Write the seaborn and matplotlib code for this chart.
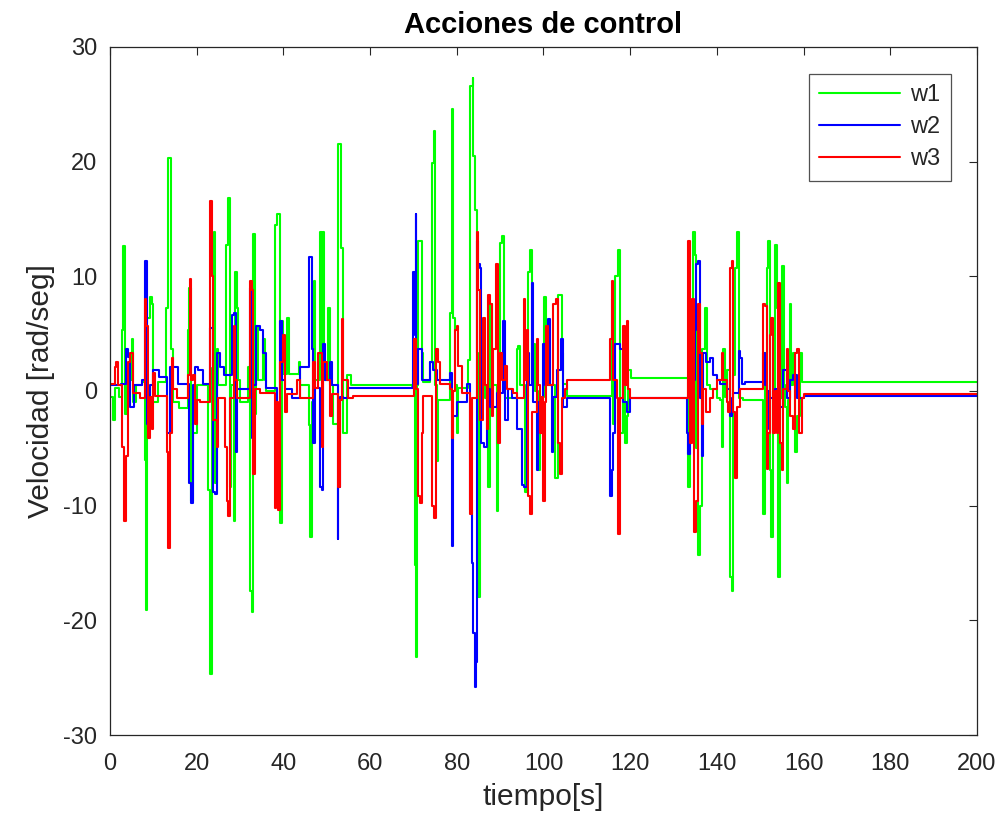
import matplotlib
matplotlib.use("Agg")
import matplotlib.pyplot as plt
import seaborn as sns
import pandas as pd

# ---------------- data: (time [s], velocity) ----------------
w1 = [(0, -0.5), (0.8, -2.5), (1.2, 0.3), (2.0, -0.5), (2.7, 5.3), (3.1, 12.6), (3.4, -2.0), (4.0, 1.0),
      (5.0, 4.5), (5.4, -1.0), (6.0, 0.5), (7.5, 0.8), (8.0, -6.0), (8.3, -19.1), (8.6, 6.4), (9.2, 8.2),
      (9.6, 7.6), (10.0, -1.0), (11.0, 0.8), (13.0, 7.2), (13.5, 20.3), (14.0, 3.7), (14.5, -1.0),
      (16.0, -1.5), (18.1, 5.3), (18.3, 9.0), (18.8, -9.6), (19.2, -3.7), (20.0, 0.5), (22.5, 0.0),
      (22.7, -8.6), (23.1, -24.7), (23.5, 2.0), (24.1, 13.9), (24.3, -8.0), (24.6, 3.7), (25.0, 0.5),
      (26.8, 12.7), (27.2, 16.8), (27.7, -8.4), (28.0, 0.5), (28.5, -11.3), (28.8, 10.4), (29.2, 7.2),
      (29.5, 1.0), (30.0, -1.0), (31.9, 2.1), (32.3, -17.4), (32.7, -19.3), (33.1, 13.7), (33.5, -2.0),
      (33.8, 5.7), (34.1, 1.0), (35.4, 4.5), (35.7, 1.0), (36.0, 0.0), (38.1, 14.5), (38.6, 15.4),
      (39.2, -11.5), (39.6, 6.1), (40.0, 1.5), (40.8, 6.4), (41.2, 1.5), (43.5, 2.5), (43.9, 0.5),
      (45.8, -3.0), (46.2, -12.7), (46.5, -1.0), (47.0, 9.6), (47.4, 1.0), (48.5, 13.9), (48.8, 1.0),
      (49.1, 13.9), (49.4, 1.0), (50.4, 7.2), (50.8, 0.5), (51.5, -2.9), (52.7, 21.5), (53.2, 12.5),
      (53.8, -3.7), (54.6, 1.4), (55.5, 0.5), (69.6, 0.4),
      (70.0, 1.8), (70.36, -15.2), (70.6, -23.2), (70.8, 0.5), (71.1, 13.1), (71.7, 13.1), (71.9, 3.3),
      (72.3, 0.8), (73.8, 2.5), (74.2, 19.9), (74.8, 22.7), (75.0, 0.5), (75.4, -6.1), (75.7, -0.8),
      (78.4, 6.8), (78.8, 24.6), (79.2, 6.4), (79.5, 0.5), (80.0, -3.7), (80.4, 0.3), (82.7, 2.7),
      (83.0, 26.6), (83.7, 27.3), (83.8, 20.5), (84.2, 15.8), (84.7, 3.3), (85.0, -18.0), (85.3, 1.0),
      (86.5, -0.6), (87.3, -8.4), (87.7, 7.6), (88.1, 0.5), (89.2, -10.5), (89.5, -1.0), (90.0, 12.9),
      (90.5, 13.5), (90.8, 1.0), (91.1, -0.6), (93.8, 3.7), (94.2, 3.9), (94.6, 0.5), (95.7, -8.8),
      (96.1, -0.5), (96.5, 10.4), (96.9, 12.3), (97.3, 1.0), (97.7, 4.1), (98.1, 0.0), (98.8, -6.9),
      (99.2, -0.5), (100.1, 8.2), (100.7, 5.7), (101.1, 0.5), (102.7, -7.6), (103.4, 8.4), (104.0, 8.4),
      (104.2, 3.3), (104.6, 0.6), (105.4, -0.4), (115.0, -0.4),
      (115.7, 8.0), (116.1, -2.9), (116.5, 10.0), (117.3, 12.3), (117.7, -3.7), (118.4, 3.3), (118.8, -4.5),
      (119.2, -2.2), (119.6, 1.8), (120.2, 1.1), (132.9, 1.1),
      (133.4, -8.4), (133.8, 5.7), (134.2, 1.0), (134.6, 13.9), (135.0, 11.9), (135.3, -5.0),
      (135.7, -14.3), (136.1, -10.0), (136.5, 3.7), (137.3, 7.2), (137.7, 0.5), (138.4, 0.2), (140.0, -0.6),
      (140.7, -0.8), (141.1, -4.9), (141.5, 3.7), (141.9, -0.5), (142.3, 1.8), (143.0, -16.2),
      (143.4, -17.4), (143.8, 1.4), (144.2, 10.7), (144.6, 13.9), (145.0, -0.6), (146.0, -0.8),
      (149.9, -0.8), (150.7, -10.7), (151.1, 3.3), (151.5, 10.7), (151.9, 13.1), (152.3, -6.9),
      (152.6, -12.7), (153.0, -0.8), (153.4, 12.7), (153.8, 7.2), (154.2, -16.2), (154.6, -0.6),
      (155.1, 10.9), (155.4, 0.5), (155.7, -1.4), (156.1, -8.0), (156.5, -0.8), (156.9, 7.6),
      (157.2, 0.5), (157.6, 3.3), (158.0, -5.3), (158.4, -2.2), (159.2, 3.3), (159.6, 0.8),
      (160.0, 0.8), (200.0, 0.8)]

w2 = [(0, 0.5), (2.5, 0.6), (3.7, 3.7), (4.2, 3.0), (4.6, -1.4), (5.5, 0.5), (7.5, 1.0), (8.1, 11.3),
      (8.5, -2.9), (8.8, -3.3), (9.2, 0.5), (10.0, 1.8), (11.2, 1.2), (13.1, -3.7), (13.8, 2.1),
      (15.8, 0.6), (18.3, -8.0), (18.8, -9.8), (19.1, 0.5), (19.6, 2.1), (20.4, 1.8), (21.5, 0.6),
      (23.1, 5.5), (23.8, -8.8), (24.2, -9.0), (24.8, 3.3), (25.4, 2.1), (26.2, 1.4), (28.1, 6.6),
      (28.6, 6.8), (29.0, -5.3), (29.4, 0.2), (32.3, 9.0), (32.7, -4.1), (33.1, 0.5), (33.8, 5.7),
      (34.6, 5.3), (35.4, 3.3), (35.9, 0.3), (38.5, -8.4), (39.2, 6.1), (39.6, 1.0), (40.4, 0.2),
      (42.0, -0.6), (43.8, 2.1), (46.0, 11.7), (46.5, 3.7), (46.9, -4.5), (47.3, 0.3), (48.5, -8.4),
      (48.8, -8.6), (49.2, 4.1), (49.6, 1.0), (50.8, 2.5), (51.2, 0.5), (52.5, -12.9), (52.7, -8.4),
      (53.1, -0.5), (53.8, -0.6), (55.0, 0.3), (69.6, 0.3),
      (70.0, 10.4), (70.36, 4.9), (70.6, 15.4), (70.7, 0.6), (71.1, 3.7), (71.9, 1.0), (73.8, 2.5),
      (74.6, 1.8), (75.4, 1.0), (78.4, 1.6), (78.8, -13.5), (79.2, -2.2), (80.0, -1.0), (82.3, 0.6),
      (83.0, -10.4), (83.4, -15.0), (83.8, -21.1), (84.1, -25.8), (84.4, -23.6), (84.7, 13.1),
      (85.0, 11.1), (85.4, 10.7), (85.7, -4.5), (86.3, -4.9), (86.9, 0.2), (87.7, -1.4), (89.2, -0.2),
      (90.7, 6.1), (91.1, -2.5), (91.9, 0.2), (92.7, -0.6), (93.8, -3.3), (95.0, -8.2), (95.4, -8.4),
      (96.1, 3.3), (96.6, 0.5), (97.3, 9.4), (97.7, -1.0), (98.4, -6.9), (98.8, -1.0), (99.6, -2.9),
      (100.0, 4.1), (100.4, 0.5), (101.1, 6.3), (101.5, 0.5), (101.9, -5.3), (102.3, -0.5),
      (103.1, 1.8), (104.0, 4.5), (104.6, -1.4), (105.4, -0.6), (115.0, -0.6),
      (115.4, -9.2), (115.7, -6.9), (116.1, -3.7), (116.5, 4.1), (117.7, 3.7), (118.4, -1.0),
      (119.2, -1.8), (120.0, -0.6), (132.9, -0.6),
      (133.0, -3.7), (133.4, -5.5), (133.8, 1.0), (135.0, 5.3), (135.3, 11.1), (135.7, 11.3),
      (136.1, -0.6), (136.5, -5.7), (136.9, 3.3), (137.6, 2.5), (138.4, 2.9), (139.2, 1.4), (140.0, 1.0),
      (140.7, 0.6), (142.3, 0.2), (143.0, -2.2), (143.4, -0.6), (143.8, -0.2), (145.0, 3.5),
      (145.3, 2.9), (145.7, 0.6), (146.5, 0.8), (149.9, 0.8), (150.7, 3.3), (151.1, 0.5), (151.5, -3.3),
      (151.9, 0.0), (152.3, -0.6), (153.4, 0.2), (154.2, -1.4), (155.3, 1.8), (156.1, -0.6),
      (156.9, 1.0), (157.6, 1.4), (158.4, -0.6), (160.0, -0.4), (200.0, -0.4)]

w3 = [(0, 0.6), (1.2, 2.1), (1.5, 2.5), (1.9, 0.5), (2.7, -4.9), (3.2, -11.3), (3.7, -5.7), (4.2, 2.5),
      (4.6, 3.3), (5.4, -0.2), (7.0, -0.6), (8.1, 8.0), (8.3, 5.7), (8.8, -4.1), (9.2, -0.5),
      (9.6, -3.3), (10.0, 1.6), (10.4, -0.4), (13.1, -5.3), (13.5, -13.7), (13.8, -3.7), (14.2, 2.9),
      (14.6, 0.2), (15.4, -0.6), (18.1, 1.4), (18.5, 9.8), (18.8, 1.0), (19.1, 1.4), (19.6, -2.9),
      (20.0, -0.8), (20.8, -1.0), (23.1, 16.6), (23.5, 10.0), (23.8, -2.5), (24.6, -4.9), (25.0, -0.6),
      (26.5, -4.9), (26.9, -9.6), (27.3, -10.9), (27.7, -0.6), (28.5, 5.7), (28.8, 1.0), (29.2, -0.6),
      (32.3, 9.6), (32.7, 8.8), (33.1, -7.2), (33.5, 0.2), (34.6, -0.2), (38.1, -10.2), (38.4, -1.0),
      (38.8, -10.4), (39.2, 2.5), (39.8, 4.9), (40.4, -1.8), (40.8, -0.3), (43.1, 1.0), (43.8, -0.6),
      (46.9, 2.5), (47.3, 0.3), (48.1, 3.3), (48.8, -4.9), (49.2, 2.5), (50.0, 1.0), (50.8, -2.2),
      (51.2, -0.3), (52.7, -8.4), (53.1, -0.8), (53.5, 6.3), (53.8, 1.0), (55.0, -0.6), (56.0, -0.4),
      (69.6, -0.4),
      (70.1, 4.5), (70.6, 0.2), (71.1, -9.2), (71.5, -9.8), (71.9, -3.7), (72.3, -0.4), (74.4, -10.0),
      (74.8, -11.1), (75.2, 3.7), (75.7, 2.5), (76.1, 0.6), (78.4, 0.2), (78.8, -4.1), (79.2, 0.0),
      (79.6, 5.3), (80.0, 5.7), (80.4, 2.2), (81.1, -0.2), (83.0, -10.7), (83.4, -0.6), (84.6, 13.9),
      (85.0, 8.8), (85.4, -2.5), (86.1, 6.4), (86.5, 0.5), (86.9, -3.3), (87.3, 8.4), (87.7, 7.6),
      (88.1, -2.2), (88.4, 3.7), (89.1, 11.1), (89.4, -4.5), (90.0, 3.3), (90.5, 1.0), (91.1, 2.2),
      (91.5, 0.2), (93.0, -0.2), (93.8, -0.6), (95.4, 8.0), (95.7, 1.0), (96.1, 5.3), (96.5, -9.2),
      (96.9, -10.7), (97.3, -1.8), (98.4, 4.5), (98.8, 0.5), (99.2, -3.7), (99.6, -0.5), (100.0, -9.6),
      (100.3, -1.0), (100.7, 5.7), (101.1, 0.5), (102.3, 7.6), (102.8, 8.0), (103.3, -4.5),
      (103.8, -7.2), (104.2, -0.6), (105.0, 0.2), (105.4, 1.0), (115.0, 1.0),
      (115.4, 4.5), (115.7, 9.6), (116.1, 1.0), (116.9, -0.6), (117.3, -12.5), (117.7, -0.6),
      (118.4, 5.7), (118.8, 0.5), (119.2, 6.1), (119.6, 0.2), (120.0, -0.6), (132.9, -0.6),
      (133.4, 13.1), (133.8, -4.5), (134.2, 8.0), (134.7, -12.3), (135.1, -9.6), (135.7, 7.6),
      (136.1, 3.3), (136.5, -2.9), (136.9, 0.2), (137.6, -1.8), (138.4, -0.6), (139.2, 0.2),
      (140.0, 1.0), (141.1, 3.3), (141.5, 1.0), (142.3, -1.0), (142.6, -1.8), (143.0, 10.7),
      (143.4, 11.3), (143.8, -1.8), (144.2, -7.6), (144.6, -1.4), (145.3, 0.2), (150.3, 0.2),
      (150.7, 7.6), (151.1, 7.4), (151.5, -6.8), (151.9, -3.7), (152.3, 4.9), (152.6, 6.4),
      (153.0, -3.7), (153.4, 0.0), (153.8, -3.7), (154.2, 9.4), (154.6, -4.5), (155.0, -6.9),
      (155.3, 0.2), (156.1, 3.7), (156.5, 0.0), (156.9, -2.2), (157.6, -3.3), (158.0, 3.3),
      (158.4, 3.7), (159.0, -3.7), (159.6, -0.6), (160.0, -0.3), (200.0, -0.3)]

labels = ["w1", "w2", "w3"]
colors = ["#00ff00", "#0000ff", "#ff0000"]
x_ticks = [0, 20, 40, 60, 80, 100, 120, 140, 160, 180, 200]
y_ticks = [-30, -20, -10, 0, 10, 20, 30]

# ---------------- figure ----------------
sns.set_theme(style="white")
plt.rcParams["font.family"] = ["Liberation Sans", "DejaVu Sans"]
plt.rcParams["axes.unicode_minus"] = False
plt.rcParams["xtick.direction"] = "in"
plt.rcParams["ytick.direction"] = "in"

fig = plt.figure(figsize=(10.08, 8.24), dpi=100)
ax = fig.add_axes([0.1091, 0.108, 0.8601, 0.835])

for pts, lab, col in zip([w1, w2, w3], labels, colors):
    df = pd.DataFrame(pts, columns=["t", "v"])
    sns.lineplot(data=df, x="t", y="v", ax=ax, color=col, label=lab,
                 estimator=None, sort=False, linewidth=1.5, drawstyle="steps-post")

ax.set_xlim(0, 200)
ax.set_ylim(-30, 30)
ax.set_xticks(x_ticks)
ax.set_yticks(y_ticks)
txt = "#262626"
ax.tick_params(axis="both", which="both", direction="in", length=6, width=0.8,
               top=True, right=True, labelsize=17, colors=txt)
ax.tick_params(axis="x", pad=13)
ax.tick_params(axis="y", pad=9)
for s in ax.spines.values():
    s.set_color(txt)
    s.set_linewidth(0.9)

ax.set_xlabel("tiempo[s]", fontsize=21.5, color=txt, labelpad=6)
ax.set_ylabel("Velocidad [rad/seg]", fontsize=21.5, color=txt, labelpad=6)
ax.set_title("Acciones de control", fontsize=21, fontweight="bold", color="black", pad=10)

leg = ax.legend(loc="upper right", bbox_to_anchor=(0.97, 0.961), borderaxespad=0,
                frameon=True, fancybox=False, fontsize=17, handlelength=3.4,
                handletextpad=0.45, labelspacing=0.42, borderpad=0.45)
leg.get_frame().set_edgecolor(txt)
leg.get_frame().set_linewidth(0.9)
for line in leg.get_lines():
    line.set_linewidth(1.5)
    line.set_drawstyle("default")

fig.savefig("out.png", dpi=100)
